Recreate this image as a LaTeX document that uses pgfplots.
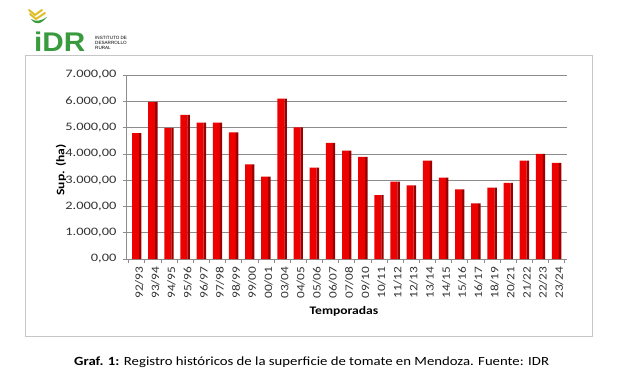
\documentclass[border=0pt]{standalone}
\usepackage{pgfplots}
\pgfplotsset{compat=1.18}
\usepackage{pgfplotstable}
\usepackage{fontspec}
\setmainfont[FakeStretch=1.18]{Carlito}
\newfontfamily\logofont{Liberation Sans}
\definecolor{barred}{HTML}{EC0000}
\definecolor{barside}{HTML}{9A0000}
\definecolor{gridgray}{HTML}{8C8C8C}
\definecolor{idrgreen}{HTML}{3A9A3E}
\definecolor{idryellow}{HTML}{E0BE2A}

\pgfplotstableread{
x y
0 4790
1 5980
2 4990
3 5480
4 5190
5 5190
6 4820
7 3600
8 3130
9 6100
10 5010
11 3480
12 4420
13 4120
14 3890
15 2430
16 2940
17 2800
18 3740
19 3100
20 2650
21 2120
22 2720
23 2900
24 3740
25 4000
26 3660
}\datatable

\begin{document}
\begin{tikzpicture}[x=1pt,y=1pt]
\path[fill=white] (0,0) rectangle (619,384);
\draw[gray!45, line width=0.8pt] (25,329) rectangle (592.5,47.5);
% logo
\draw[idryellow, line width=2pt, line cap=round] (29,374) -- (35,369) -- (42,374);
\draw[idryellow, line width=2pt, line cap=round] (30,370) -- (36,365) -- (45,371);
\fill[idrgreen] (31,365) .. controls (36,358) and (41,360) .. (47,367) .. controls (41,363) and (36,362) .. (31,365) -- cycle;
\node[anchor=west, inner sep=0pt, text=idrgreen, xscale=1.1] at (34,342) {\logofont\bfseries\fontsize{27}{27}\selectfont iDR};
\node[anchor=north west, inner sep=0pt, align=left, font=\logofont\fontsize{4.6}{4.8}\selectfont] at (95,347.5) {INSTITUTO DE\\DESARROLLO\\RURAL};
\begin{axis}[
  at={(126.7pt,125pt)}, anchor=south west,
  scale only axis, width=440pt, height=184pt,
  xmin=-0.62, xmax=26.62, ymin=0, ymax=7000,
  axis lines*=left,
  axis line style={gridgray, line width=0.7pt},
  ytick={0,1000,...,7000},
  ymajorgrids, grid style={gridgray, line width=0.7pt},
  tick align=outside, major tick length=4pt,
  tick style={gridgray, line width=0.7pt},
  xtick={0,...,26},
  major x tick style={draw=none},
  xticklabels={92/93,93/94,94/95,95/96,96/97,97/98,98/99,99/00,00/01,03/04,04/05,05/06,06/07,07/08,09/10,10/11,11/12,12/13,13/14,14/15,15/16,16/17,18/19,20/21,21/22,22/23,23/24},
  extra x ticks={-0.5,0.5,...,26.5},
  extra x tick labels={},
  extra x tick style={grid=none, major tick length=4pt, major x tick style={draw=gridgray, line width=0.7pt}},
  x tick label style={rotate=90, anchor=east, font=\fontsize{11.3}{12}\selectfont, text=black!80, yshift=-2.5pt},
  y tick label style={font=\fontsize{11.4}{12}\selectfont, text=black!80, xshift=-2.5pt, xscale=1.07},
  yticklabel style={/pgf/number format/.cd, fixed, fixed zerofill, precision=2, use comma, 1000 sep={.}, assume math mode=true},
  clip=false,
]
\addplot[ybar, bar width=7pt, bar shift=-1.2pt, fill=barred, draw=none] table[x=x,y=y] {\datatable};
\addplot[ybar, bar width=2.4pt, bar shift=3.5pt, fill=barside, draw=none] table[x=x,y=y] {\datatable};
\end{axis}
\node[font=\bfseries\fontsize{11.5}{12}\selectfont] at (344,73) {Temporadas};
\node[font=\bfseries\fontsize{11.5}{12}\selectfont, rotate=90] at (61,214) {Sup. (ha)};
\node[anchor=west, inner sep=0pt, font=\fontsize{12.5}{14}\selectfont] at (74,22) {\textbf{Graf. 1:} Registro históricos de la superficie de tomate en Mendoza. Fuente: IDR};
\end{tikzpicture}
\end{document}
